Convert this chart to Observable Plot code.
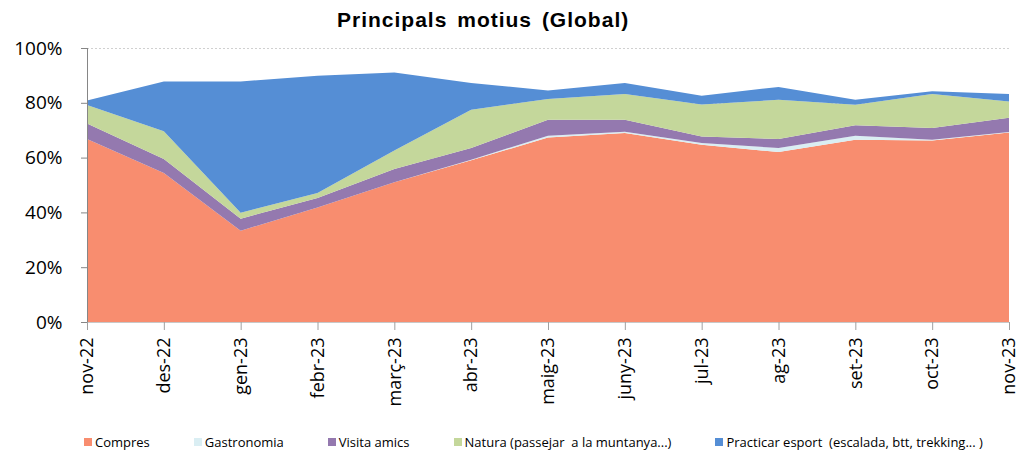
<!DOCTYPE html>
<html><head><meta charset="utf-8">
<script src="https://cdn.jsdelivr.net/npm/d3@7"></script>
<script src="https://cdn.jsdelivr.net/npm/@observablehq/plot@0.6"></script>
<style>
body{margin:0;background:#fff;font-family:"Open Sans",sans-serif;}
#wrap{width:1022px;height:454px;position:relative;overflow:hidden;}
#title{height:30px;font:bold 21px "Liberation Sans",Arial,sans-serif;letter-spacing:1px;word-spacing:3px;padding-left:337px;line-height:40px;box-sizing:border-box;color:#000;white-space:nowrap;overflow:visible;position:relative;z-index:1;}
#legend{height:24px;display:flex;align-items:center;padding-left:84px;gap:44px;font-size:13px;color:#000;white-space:nowrap;}
#legend .it{display:flex;align-items:center;}
#legend .sw{width:8px;height:8px;margin-right:3px;}
svg{display:block;}
</style>
</head><body>
<div id="wrap">
<div id="title">Principals motius (Global)</div>
<div id="chart"></div>
<div id="legend"></div>
</div>
<script>
const months = ["nov-22","des-22","gen-23","febr-23","març-23","abr-23","maig-23","juny-23","jul-23","ag-23","set-23","oct-23","nov-23"];
const series = ["Compres","Gastronomia","Visita amics","Natura (passejar  a la muntanya...)","Practicar esport  (escalada, btt, trekking... )"];
const colors = ["#F88D6F","#DAEEF3","#9479AF","#C4D79B","#558ED5"];
const compres     = [66.8, 54.4, 33.3, 41.8, 51.0, 59.0, 67.3, 69.0, 64.7, 62.0, 66.5, 66.2, 69.2];
const gastronomia = [0.0,  0.0,  0.0,  0.0,  0.0,  0.2,  0.7,  0.4,  0.6,  1.5,  1.5,  0.3,  0.1];
const visita      = [5.6,  5.1,  4.4,  3.5,  4.8,  4.3,  5.8,  4.4,  2.4,  3.3,  3.8,  4.3,  5.2];
const natura      = [6.8,  10.1, 2.2,  1.8,  6.8,  14.0, 7.6,  9.4,  11.7, 14.3, 7.5,  12.4, 6.0];
const esport      = [1.6,  18.2, 47.9, 42.8, 28.5, 9.7,  3.1,  4.0,  3.2,  4.7,  1.8,  1.0,  2.7];
const yTicks = [0,20,40,60,80,100];

const values = [compres, gastronomia, visita, natura, esport];
const data = [];
series.forEach((s,k)=> values[k].forEach((v,i)=> data.push({i, s, v})));

const chart = Plot.plot({
  width:1022, height:400,
  marginLeft:87, marginRight:13, marginTop:18, marginBottom:108,
  style:{fontFamily:"Open Sans, sans-serif", background:"transparent", color:"#000"},
  x:{type:"linear", domain:[0, months.length-1], label:null},
  y:{domain:[0,100], label:null},
  color:{domain:series, range:colors},
  marks:[
    Plot.gridY(yTicks, {stroke:"#d0d0d0", strokeOpacity:1, strokeDasharray:"2,2"}),
    Plot.areaY(data, {x:"i", y:"v", fill:"s"}),
    Plot.ruleX([0], {stroke:"#868686"}),
    Plot.ruleY([0], {stroke:"#c8c8c8"}),
    Plot.axisY({ticks:yTicks, tickFormat:d=>d+"%", tickSize:6, tickPadding:19, fontSize:19, stroke:"#868686", fill:"#000", label:null}),
    Plot.axisX({ticks:d3.range(months.length), tickFormat:i=>months[i], tickRotate:-90, tickSize:8, tickPadding:7, fontSize:18, stroke:"#a0a0a0", fill:"#000", label:null})
  ]
});
document.getElementById("chart").appendChild(chart);

const lg = document.getElementById("legend");
series.forEach((s,k)=>{
  const it = document.createElement("div"); it.className="it";
  const sw = document.createElement("span"); sw.className="sw"; sw.style.background=colors[k];
  const t = document.createElement("span"); t.textContent=s; t.style.whiteSpace="pre";
  it.appendChild(sw); it.appendChild(t); lg.appendChild(it);
});
</script>
</body></html>
